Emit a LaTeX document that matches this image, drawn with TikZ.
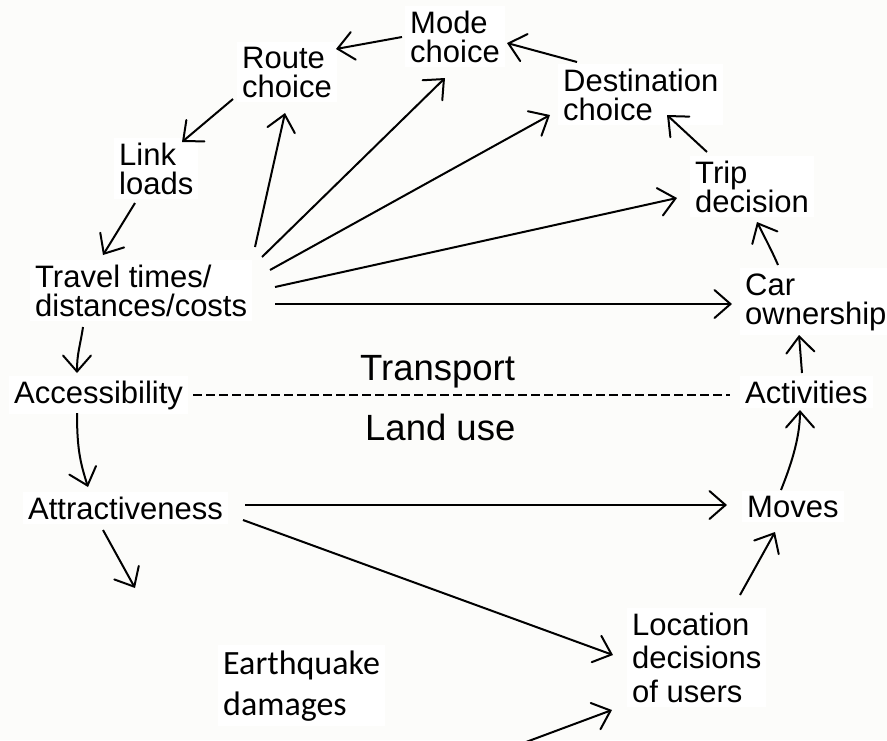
\documentclass[tikz,border=0pt]{standalone}
\usepackage{fontspec}
\setmainfont{Liberation Sans}
\newfontfamily\quakefont{Carlito}
\usetikzlibrary{arrows.meta}
\definecolor{paper}{RGB}{252,252,250}
\begin{document}
\begin{tikzpicture}[x=1pt,y=-1pt,
  lbl/.style={anchor=base west, align=left, inner sep=5pt, fill=white,
    font=\fontsize{31}{29}\selectfont},
  region/.style={anchor=base west, inner sep=5pt, font=\fontsize{36.5}{40}\selectfont},
  link/.style={line width=2pt, -{Straight Barb[length=16pt,width=28pt,line cap=round]}},
  divider/.style={line width=2pt, dash pattern=on 9pt off 4pt}]
\fill[paper] (0,0) rectangle (887,740);
\useasboundingbox (0,0) rectangle (887,740);

% the model stages (placed at the baseline of their last line)
\node[lbl] (mode)     at (405,62)  {Mode\\choice};
\node[lbl] (route)    at (237,97)  {Route\\choice};
\node[lbl] (dest)     at (558,120) {Destination\\choice};
\node[lbl] (link)     at (114,194) {Link\\loads};
\node[lbl] (trip)     at (690,212) {Trip\\decision};
\node[lbl] (travel)   at (30,316)  {Travel times/\\distances/costs};
\node[lbl] (car)      at (740,324) {Car\\ownership};
\node[lbl] (access)   at (9,403)   {Accessibility};
\node[lbl] (activ)    at (740,403) {Activities};
\node[lbl] (attract)  at (23,519)  {Attractiveness};
\node[lbl] (moves)    at (742,517) {Moves};
\node[lbl, font=\fontsize{31}{33.5}\selectfont] (location) at (627,702) {Location\\decisions\\of users};
\node[lbl, font=\quakefont\fontsize{34}{41}\selectfont] (quake) at (218,715) {Earthquake\\damages};

% subsystem labels
\node[region] (transport) at (355,380) {Transport};
\node[region] (landuse)   at (360,440) {Land use};

% free ends
\coordinate (below) at (135,588);
\coordinate (offpage) at (526,742);

% transport cycle
\draw[link] ([shift={(-3,-25)}]mode.base west) -- ([shift={(99,-48)}]route.base west);
\draw[link] ([shift={(19,-58)}]dest.base west) -- ([shift={(102,-19)}]mode.base west);
\draw[link] ([shift={(17,-60)}]trip.base west) -- ([shift={(109,-5)}]dest.base west);
\draw[link] ([shift={(38,-59)}]car.base west) .. controls +(-6,-14) and +(6,12) .. ([shift={(67,10)}]trip.base west);
\draw[link] ([shift={(62,-30)}]activ.base west) -- ([shift={(59,11)}]car.base west);
\draw[link] ([shift={(-4,2)}]route.base west) -- ([shift={(68,-52)}]link.base west);
\draw[link] ([shift={(21,9)}]link.base west) -- ([shift={(73,-61)}]travel.base west);
\draw[link] ([shift={(53,11)}]travel.base west) .. controls +(-3,20) and +(0,-20) .. ([shift={(68,-30)}]access.base west);

% travel costs feeding the choices
\draw[link] ([shift={(225,-69)}]travel.base west) -- ([shift={(48,16)}]route.base west);
\draw[link] ([shift={(232,-59)}]travel.base west) -- ([shift={(40,16)}]mode.base west);
\draw[link] ([shift={(240,-46)}]travel.base west) -- ([shift={(-8,-5)}]dest.base west);
\draw[link] ([shift={(245,-29)}]travel.base west) -- ([shift={(-13,-14)}]trip.base west);
\draw[link] ([shift={(245,-12)}]travel.base west) -- ([shift={(-8,-20)}]car.base west);

% boundary between the subsystems
\draw[divider] ([shift={(184,-8)}]access.base west) -- ([shift={(-10,-8)}]activ.base west);

% land-use cycle
\draw[link] ([shift={(68,10)}]access.base west) .. controls +(0,35) and +(-8,-25) .. ([shift={(65,-32)}]attract.base west);
\draw[link] ([shift={(80,11)}]attract.base west) -- (below);
\draw[link] ([shift={(222,-14)}]attract.base west) -- ([shift={(-15,-12)}]moves.base west);
\draw[link] ([shift={(220,1)}]attract.base west) -- ([shift={(-14,-47)}]location.base west);
\draw[link] (offpage) -- ([shift={(-15,8)}]location.base west);
\draw[link] ([shift={(113,-107)}]location.base west) -- ([shift={(33,15)}]moves.base west);
\draw[link] ([shift={(39,-27)}]moves.base west) .. controls +(8,-20) and +(0,30) .. ([shift={(60,7)}]activ.base west);
\end{tikzpicture}
\end{document}
